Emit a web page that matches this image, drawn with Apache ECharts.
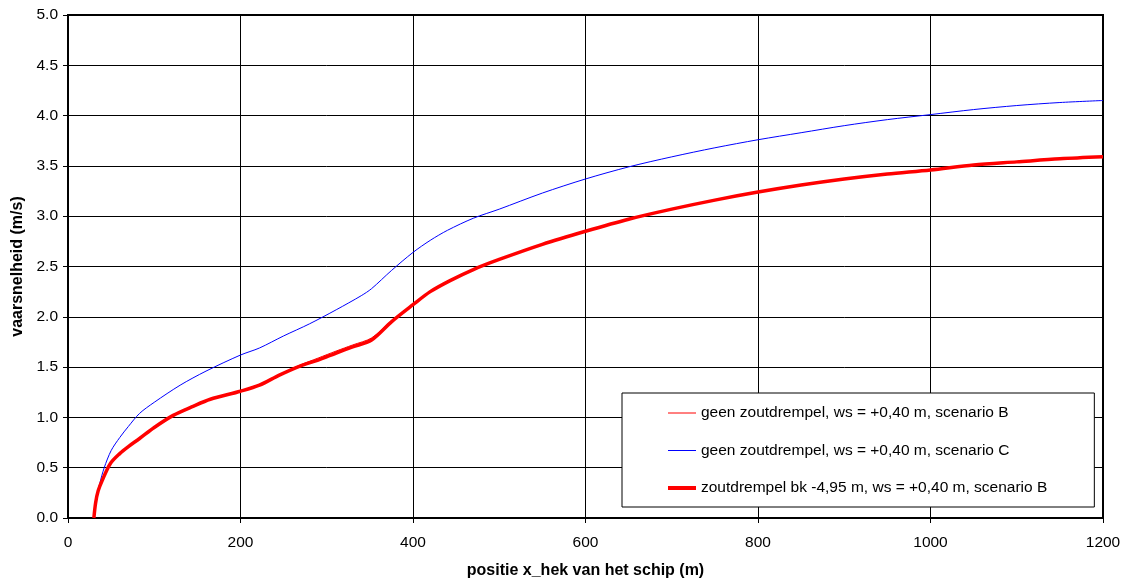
<!DOCTYPE html>
<html>
<head>
<meta charset="utf-8">
<script src="https://cdn.jsdelivr.net/npm/echarts@6/dist/echarts.min.js"></script>
<style>html,body{margin:0;padding:0;background:#fff}#c{width:1133px;height:579px}</style>
</head>
<body>
<div id="c"></div>
<script>
// Series names
const seriesNames = [
  'geen zoutdrempel, ws = +0,40 m, scenario B',
  'geen zoutdrempel, ws = +0,40 m, scenario C',
  'zoutdrempel bk -4,95 m, ws = +0,40 m, scenario B'
];
// Scenario B (no salt threshold) – thin red
const xThinB = [30,32,35,40,49,60,70,83,100,122,145,165,200,222,245,269,290,311,330,352,375,400,420,443,470,500,550,600,650,700,750,800,850,900,950,1000,1050,1100,1150,1200];
const yThinB = [0,0.15,0.27,0.38,0.54,0.64,0.71,0.79,0.90,1.02,1.11,1.18,1.26,1.32,1.42,1.52,1.59,1.66,1.72,1.79,1.96,2.12,2.25,2.36,2.47,2.57,2.72,2.85,2.97,3.07,3.16,3.24,3.31,3.37,3.42,3.46,3.51,3.54,3.57,3.59];
// Scenario C (no salt threshold) – blue
const xC = [30,33,37,42,50,60,70,83,100,130,160,200,222,250,280,311,340,352,375,400,420,440,470,500,550,600,650,700,750,800,850,900,950,1000,1050,1100,1150,1200];
const yC = [0,0.2,0.35,0.5,0.67,0.8,0.91,1.04,1.15,1.32,1.46,1.62,1.69,1.81,1.93,2.07,2.21,2.28,2.46,2.64,2.76,2.86,2.98,3.07,3.23,3.37,3.49,3.59,3.68,3.76,3.83,3.90,3.96,4.01,4.06,4.10,4.13,4.15];
// Salt threshold bk -4,95 m, scenario B – thick red
const xThickB = [30,32,35,40,49,60,70,83,100,122,145,165,200,222,245,269,290,311,330,352,375,400,420,443,470,500,550,600,650,700,750,800,850,900,950,1000,1050,1100,1150,1200];
const yThickB = [0,0.15,0.27,0.38,0.54,0.64,0.71,0.79,0.90,1.02,1.11,1.18,1.26,1.32,1.42,1.51,1.57,1.64,1.70,1.77,1.95,2.12,2.25,2.36,2.47,2.57,2.72,2.85,2.97,3.07,3.16,3.24,3.31,3.37,3.42,3.46,3.51,3.54,3.57,3.59];

const zip = (xs, ys) => xs.map((x, i) => [x, ys[i]]);
const font = 'Liberation Sans, Arial, sans-serif';
const legendWidths = [1, 1, 4];

const chart = echarts.init(document.getElementById('c'), null, {renderer: 'canvas'});
chart.setOption({
  animation: false,
  backgroundColor: '#fff',
  grid: {left: 68, right: 30, top: 15, bottom: 61, show: true, borderColor: '#000', borderWidth: 2, backgroundColor: 'transparent', outerBoundsMode: 'none', containLabel: false},
  xAxis: {
    type: 'value', min: 0, max: 1200, interval: 200,
    name: 'positie x_hek van het schip (m)', nameLocation: 'middle', nameGap: 45,
    nameTextStyle: {fontFamily: font, fontSize: 16, fontWeight: 'bold', color: '#000'},
    axisLine: {show: true, lineStyle: {color: '#000', width: 2}},
    axisTick: {show: true, length: 5, lineStyle: {color: '#000'}},
    axisLabel: {fontFamily: font, fontSize: 15.5, color: '#000', margin: 17, formatter: v => String(v)},
    splitLine: {show: true, lineStyle: {color: '#000', width: 1}}
  },
  yAxis: {
    type: 'value', min: 0, max: 5, interval: 0.5,
    name: 'vaarsnelheid (m/s)', nameLocation: 'middle', nameGap: 40, nameRotate: 90,
    nameTextStyle: {fontFamily: font, fontSize: 16, fontWeight: 'bold', color: '#000'},
    axisLine: {show: true, lineStyle: {color: '#000', width: 2}},
    axisTick: {show: true, length: 5, lineStyle: {color: '#000'}},
    axisLabel: {fontFamily: font, fontSize: 15.5, color: '#000', margin: 10, formatter: v => v.toFixed(1)},
    splitLine: {show: true, lineStyle: {color: '#000', width: 1}}
  },
  legend: {
    orient: 'vertical', left: 622, top: 393,
    padding: [12, 47, 11, 44], itemGap: 21.5, itemWidth: 28, itemHeight: 15,
    backgroundColor: '#fff', borderColor: '#000', borderWidth: 1, borderRadius: 0,
    itemStyle: {opacity: 0},
    textStyle: {fontFamily: font, fontSize: 15.5, lineHeight: 16, color: '#000'},
    data: seriesNames.map((n, i) => ({name: n, lineStyle: {width: legendWidths[i]}}))
  },
  series: [
    {name: seriesNames[0], type: 'line', data: zip(xThinB, yThinB), showSymbol: false, symbol: 'none', smooth: 0.3,
     lineStyle: {color: '#ff0000', width: 1}, itemStyle: {color: '#ff0000'}},
    {name: seriesNames[1], type: 'line', data: zip(xC, yC), showSymbol: false, symbol: 'none', smooth: 0.3,
     lineStyle: {color: '#0000ff', width: 1}, itemStyle: {color: '#0000ff'}},
    {name: seriesNames[2], type: 'line', data: zip(xThickB, yThickB), showSymbol: false, symbol: 'none', smooth: 0.3,
     lineStyle: {color: '#ff0000', width: 3.5}, itemStyle: {color: '#ff0000'}}
  ]
});
</script>
</body>
</html>
